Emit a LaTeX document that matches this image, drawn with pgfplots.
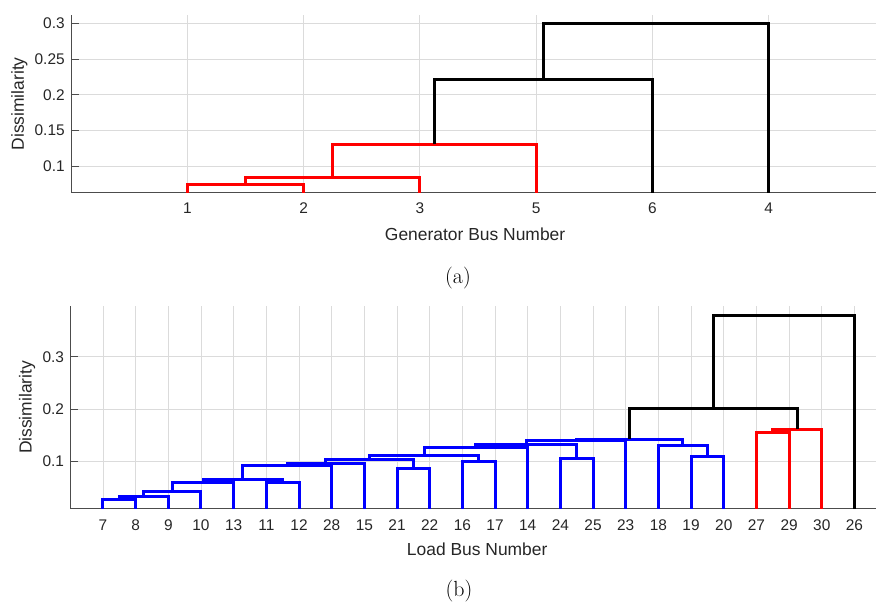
\documentclass[border=0pt]{standalone}
\usepackage{fontspec}
\setsansfont{Liberation Sans}
\usepackage{pgfplots}
\pgfplotsset{compat=1.18}
\definecolor{axgray}{gray}{0.3}
\definecolor{txtgray}{gray}{0.15}
\definecolor{gridgray}{gray}{0.86}
\pgfplotsset{dendro/.style={
  scale only axis,
  axis lines*=left,
  axis line style={-, draw=axgray, line width=1bp},
  grid=major,
  grid style={draw=gridgray, line width=0.8bp},
  tick align=inside,
  major tick length=8bp,
  xtick style={draw=none},
  ytick style={draw=axgray, line width=0.9bp},
  /pgf/number format/assume math mode=true,
  ticklabel style={font=\sffamily\fontsize{15.5}{18}\selectfont, text=txtgray},
  xticklabel style={yshift=-7bp},
  yticklabel style={xshift=-2.8bp},
  label style={font=\sffamily\fontsize{17.5}{20}\selectfont, text=txtgray},
  every axis plot/.append style={line width=3bp, line join=miter},
}}
\begin{document}
\begin{tikzpicture}
\useasboundingbox (0,0) rectangle (876bp,606bp);
% ---------------- (a) ----------------
\begin{axis}[dendro,
  at={(71bp,413.3bp)}, anchor=south west,
  width=805bp, height=177.7bp,
  xmin=0, xmax=6.922, ymin=0.0625, ymax=0.3122,
  xtick={1,2,3,4,5,6}, xticklabels={1,2,3,5,6,4},
  ytick={0.1,0.15,0.2,0.25,0.3}, yticklabels={0.1,0.15,0.2,0.25,0.3},
  xlabel={Generator Bus Number}, ylabel={Dissimilarity},
  xlabel style={at={(axis description cs:0.502,-0.2701)}, anchor=base},
  ylabel style={at={(axis description cs:-0.0584,0.5)}, anchor=base},
]
\addplot[red] coordinates {(1,0) (1,0.0743) (2,0.0743) (2,0)};
\addplot[red] coordinates {(1.5,0.0743) (1.5,0.084) (3,0.084) (3,0)};
\addplot[red] coordinates {(2.25,0.084) (2.25,0.1305) (4,0.1305) (4,0)};
\addplot[black] coordinates {(3.125,0.1305) (3.125,0.222) (5,0.222) (5,0)};
\addplot[black] coordinates {(4.0625,0.222) (4.0625,0.3006) (6,0.3006) (6,0)};
\end{axis}
\node[anchor=base, font=\fontsize{22}{26}\selectfont] at (458bp,322bp) {(a)};
% ---------------- (b) ----------------
\begin{axis}[dendro,
  at={(70.3bp,97bp)}, anchor=south west,
  width=805.7bp, height=203bp,
  xmin=0, xmax=24.66, ymin=0.0086, ymax=0.3975,
  xtick={1,...,24},
  xticklabels={7,8,9,10,13,11,12,28,15,21,22,16,17,14,24,25,23,18,19,20,27,29,30,26},
  ytick={0.1,0.2,0.3}, yticklabels={0.1,0.2,0.3},
  xlabel={Load Bus Number}, ylabel={Dissimilarity},
  xlabel style={at={(axis description cs:0.505,-0.230)}, anchor=base},
  ylabel style={at={(axis description cs:-0.048,0.5)}, anchor=base},
]
\addplot[blue] coordinates {(1,0) (1,0.0272) (2,0.0272) (2,0)};
\addplot[blue] coordinates {(1.5,0.0272) (1.5,0.0335) (3,0.0335) (3,0)};
\addplot[blue] coordinates {(2.25,0.0335) (2.25,0.0412) (4,0.0412) (4,0)};
\addplot[blue] coordinates {(3.125,0.0412) (3.125,0.0598) (5,0.0598) (5,0)};
\addplot[blue] coordinates {(6,0) (6,0.0595) (7,0.0595) (7,0)};
\addplot[blue] coordinates {(4.0625,0.0598) (4.0625,0.0655) (6.5,0.0655) (6.5,0.0595)};
\addplot[blue] coordinates {(5.28125,0.0655) (5.28125,0.091) (8,0.091) (8,0)};
\addplot[blue] coordinates {(6.640625,0.091) (6.640625,0.0967) (9,0.0967) (9,0)};
\addplot[blue] coordinates {(10,0) (10,0.0866) (11,0.0866) (11,0)};
\addplot[blue] coordinates {(7.8203,0.0967) (7.8203,0.1025) (10.5,0.1025) (10.5,0.0866)};
\addplot[blue] coordinates {(12,0) (12,0.0993) (13,0.0993) (13,0)};
\addplot[blue] coordinates {(9.16,0.1025) (9.16,0.112) (12.5,0.112) (12.5,0.0993)};
\addplot[blue] coordinates {(10.83,0.112) (10.83,0.127) (14,0.127) (14,0)};
\addplot[blue] coordinates {(15,0) (15,0.1057) (16,0.1057) (16,0)};
\addplot[blue] coordinates {(12.415,0.127) (12.415,0.1325) (15.5,0.1325) (15.5,0.1057)};
\addplot[blue] coordinates {(13.96,0.1325) (13.96,0.1405) (17,0.1405) (17,0)};
\addplot[blue] coordinates {(19,0) (19,0.109) (20,0.109) (20,0)};
\addplot[blue] coordinates {(18,0) (18,0.130) (19.5,0.130) (19.5,0.109)};
\addplot[blue] coordinates {(15.48,0.1405) (15.48,0.1425) (18.75,0.1425) (18.75,0.130)};
\addplot[red] coordinates {(21,0) (21,0.1555) (22,0.1555) (22,0)};
\addplot[red] coordinates {(21.5,0.1555) (21.5,0.161) (23,0.161) (23,0)};
\addplot[black] coordinates {(17.115,0.1425) (17.115,0.2015) (22.25,0.2015) (22.25,0.161)};
\addplot[black] coordinates {(19.68,0.2015) (19.68,0.380) (24,0.380) (24,0)};
\end{axis}
\node[anchor=base, font=\fontsize{22}{26}\selectfont] at (459bp,10bp) {(b)};
\end{tikzpicture}
\end{document}
